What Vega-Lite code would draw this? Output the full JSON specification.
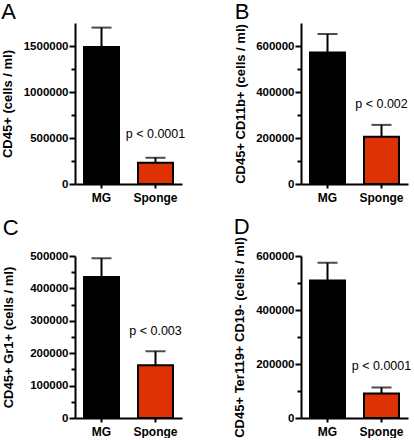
{
  "$schema": "https://vega.github.io/schema/vega-lite/v6.json",
  "background": "white",
  "padding": {"left": 1, "top": 1, "right": 0, "bottom": 0},
  "datasets": {
    "bars": [
      {"panel": "A", "group": "MG", "mean": 1490000, "upper": 1700000, "ptext": null, "py": null},
      {"panel": "A", "group": "Sponge", "mean": 230000, "upper": 285000, "ptext": "p < 0.0001", "py": 500000},
      {"panel": "B", "group": "MG", "mean": 572000, "upper": 652000, "ptext": null, "py": null},
      {"panel": "B", "group": "Sponge", "mean": 205000, "upper": 257000, "ptext": "p < 0.002", "py": 330000},
      {"panel": "C", "group": "MG", "mean": 435000, "upper": 493000, "ptext": null, "py": null},
      {"panel": "C", "group": "Sponge", "mean": 163000, "upper": 206000, "ptext": "p < 0.003", "py": 255000},
      {"panel": "D", "group": "MG", "mean": 509000, "upper": 575000, "ptext": null, "py": null},
      {"panel": "D", "group": "Sponge", "mean": 91000, "upper": 113000, "ptext": "p < 0.0001", "py": 178000}
    ]
  },
  "columns": 2,
  "spacing": {"row": 12, "column": 47},
  "concat": [
    {
      "title": {"text": "A", "offset": -1},
      "width": 107, "height": 161,
      "data": {"name": "bars"},
      "transform": [{"filter": "datum.panel === 'A'"}],
      "encoding": {
        "x": {"field": "group", "type": "nominal", "sort": ["MG", "Sponge"], "title": null,
              "scale": {"paddingInner": 0.352, "paddingOuter": 0.167}}
      },
      "layer": [
        {"mark": {"type": "rule", "strokeWidth": 2, "color": "black"},
         "encoding": {"y": {"field": "mean", "type": "quantitative", "title": "CD45+ (cells / ml)",
                            "scale": {"domain": [0, 1750000], "nice": false},
                            "axis": {"values": [0, 500000, 1000000, 1500000], "tickSize": 6, "titlePadding": 9}},
                      "y2": {"field": "upper"}}},
        {"mark": {"type": "tick", "color": "black", "thickness": 2, "size": 20},
         "encoding": {"y": {"field": "upper", "type": "quantitative",
                            "axis": {"orient": "left", "values": [250000, 750000, 1250000], "tickSize": 4, "labels": false, "domain": false, "title": null}}}},
        {"mark": {"type": "bar", "stroke": "black", "strokeWidth": 2},
         "encoding": {"y": {"field": "mean", "type": "quantitative", "axis": null},
                      "color": {"field": "group", "type": "nominal", "scale": {"domain": ["MG", "Sponge"], "range": ["#000000", "#de3205"]}, "legend": null}}},
        {"transform": [{"filter": "datum.ptext"}],
         "mark": {"type": "text", "font": "Liberation Sans", "fontSize": 12.5, "baseline": "alphabetic", "color": "black"},
         "encoding": {"y": {"field": "py", "type": "quantitative", "axis": null}, "text": {"field": "ptext"}}}
      ],
      "resolve": {"axis": {"y": "independent"}}
    },
    {
      "title": {"text": "B", "offset": -1},
      "width": 107, "height": 161,
      "data": {"name": "bars"},
      "transform": [{"filter": "datum.panel === 'B'"}],
      "encoding": {
        "x": {"field": "group", "type": "nominal", "sort": ["MG", "Sponge"], "title": null,
              "scale": {"paddingInner": 0.352, "paddingOuter": 0.167}}
      },
      "layer": [
        {"mark": {"type": "rule", "strokeWidth": 2, "color": "black"},
         "encoding": {"y": {"field": "mean", "type": "quantitative", "title": "CD45+ CD11b+ (cells / ml)",
                            "scale": {"domain": [0, 700000], "nice": false},
                            "axis": {"values": [0, 200000, 400000, 600000], "tickSize": 6, "titlePadding": 8}},
                      "y2": {"field": "upper"}}},
        {"mark": {"type": "tick", "color": "black", "thickness": 2, "size": 20},
         "encoding": {"y": {"field": "upper", "type": "quantitative",
                            "axis": {"orient": "left", "values": [100000, 300000, 500000], "tickSize": 4, "labels": false, "domain": false, "title": null}}}},
        {"mark": {"type": "bar", "stroke": "black", "strokeWidth": 2},
         "encoding": {"y": {"field": "mean", "type": "quantitative", "axis": null},
                      "color": {"field": "group", "type": "nominal", "scale": {"domain": ["MG", "Sponge"], "range": ["#000000", "#de3205"]}, "legend": null}}},
        {"transform": [{"filter": "datum.ptext"}],
         "mark": {"type": "text", "font": "Liberation Sans", "fontSize": 12.5, "baseline": "alphabetic", "color": "black"},
         "encoding": {"y": {"field": "py", "type": "quantitative", "axis": null}, "text": {"field": "ptext"}}}
      ],
      "resolve": {"axis": {"y": "independent"}}
    },
    {
      "title": {"text": "C", "offset": 10},
      "width": 107, "height": 162,
      "data": {"name": "bars"},
      "transform": [{"filter": "datum.panel === 'C'"}],
      "encoding": {
        "x": {"field": "group", "type": "nominal", "sort": ["MG", "Sponge"], "title": null,
              "scale": {"paddingInner": 0.352, "paddingOuter": 0.167}}
      },
      "layer": [
        {"mark": {"type": "rule", "strokeWidth": 2, "color": "black"},
         "encoding": {"y": {"field": "mean", "type": "quantitative", "title": "CD45+ Gr1+ (cells / ml)",
                            "scale": {"domain": [0, 500000], "nice": false},
                            "axis": {"values": [0, 100000, 200000, 300000, 400000, 500000], "tickSize": 6, "titlePadding": 14}},
                      "y2": {"field": "upper"}}},
        {"mark": {"type": "tick", "color": "black", "thickness": 2, "size": 20},
         "encoding": {"y": {"field": "upper", "type": "quantitative",
                            "axis": {"orient": "left", "values": [50000, 150000, 250000, 350000, 450000], "tickSize": 4, "labels": false, "domain": false, "title": null}}}},
        {"mark": {"type": "bar", "stroke": "black", "strokeWidth": 2},
         "encoding": {"y": {"field": "mean", "type": "quantitative", "axis": null},
                      "color": {"field": "group", "type": "nominal", "scale": {"domain": ["MG", "Sponge"], "range": ["#000000", "#de3205"]}, "legend": null}}},
        {"transform": [{"filter": "datum.ptext"}],
         "mark": {"type": "text", "font": "Liberation Sans", "fontSize": 12.5, "baseline": "alphabetic", "color": "black"},
         "encoding": {"y": {"field": "py", "type": "quantitative", "axis": null}, "text": {"field": "ptext"}}}
      ],
      "resolve": {"axis": {"y": "independent"}}
    },
    {
      "title": {"text": "D", "offset": -2},
      "width": 107, "height": 162,
      "data": {"name": "bars"},
      "transform": [{"filter": "datum.panel === 'D'"}],
      "encoding": {
        "x": {"field": "group", "type": "nominal", "sort": ["MG", "Sponge"], "title": null,
              "scale": {"paddingInner": 0.352, "paddingOuter": 0.167}}
      },
      "layer": [
        {"mark": {"type": "rule", "strokeWidth": 2, "color": "black"},
         "encoding": {"y": {"field": "mean", "type": "quantitative", "title": "CD45+ Ter119+ CD19- (cells / ml)",
                            "scale": {"domain": [0, 600000], "nice": false},
                            "axis": {"values": [0, 200000, 400000, 600000], "tickSize": 6, "titlePadding": 9}},
                      "y2": {"field": "upper"}}},
        {"mark": {"type": "tick", "color": "black", "thickness": 2, "size": 20},
         "encoding": {"y": {"field": "upper", "type": "quantitative",
                            "axis": {"orient": "left", "values": [100000, 300000, 500000], "tickSize": 4, "labels": false, "domain": false, "title": null}}}},
        {"mark": {"type": "bar", "stroke": "black", "strokeWidth": 2},
         "encoding": {"y": {"field": "mean", "type": "quantitative", "axis": null},
                      "color": {"field": "group", "type": "nominal", "scale": {"domain": ["MG", "Sponge"], "range": ["#000000", "#de3205"]}, "legend": null}}},
        {"transform": [{"filter": "datum.ptext"}],
         "mark": {"type": "text", "font": "Liberation Sans", "fontSize": 12.5, "baseline": "alphabetic", "color": "black"},
         "encoding": {"y": {"field": "py", "type": "quantitative", "axis": null}, "text": {"field": "ptext"}}}
      ],
      "resolve": {"axis": {"y": "independent"}}
    }
  ],
  "config": {
    "view": {"stroke": null},
    "title": {"font": "Liberation Sans", "fontSize": 22, "fontWeight": "normal", "anchor": "start", "color": "black", "baseline": "alphabetic"},
    "axis": {"grid": false, "domainColor": "black", "domainWidth": 2, "tickColor": "black", "tickWidth": 2,
             "labelColor": "black", "titleColor": "black", "labelFont": "Liberation Sans", "titleFont": "Liberation Sans"},
    "axisX": {"labelAngle": 0, "tickSize": 4, "labelFontSize": 12, "labelFontWeight": "bold", "labelPadding": 4},
    "axisY": {"format": "d", "labelFontSize": 11.5, "labelFontWeight": "bold", "labelPadding": 1,
              "titleFontSize": 13, "titleFontWeight": "bold", "labelOverlap": false}
  }
}
